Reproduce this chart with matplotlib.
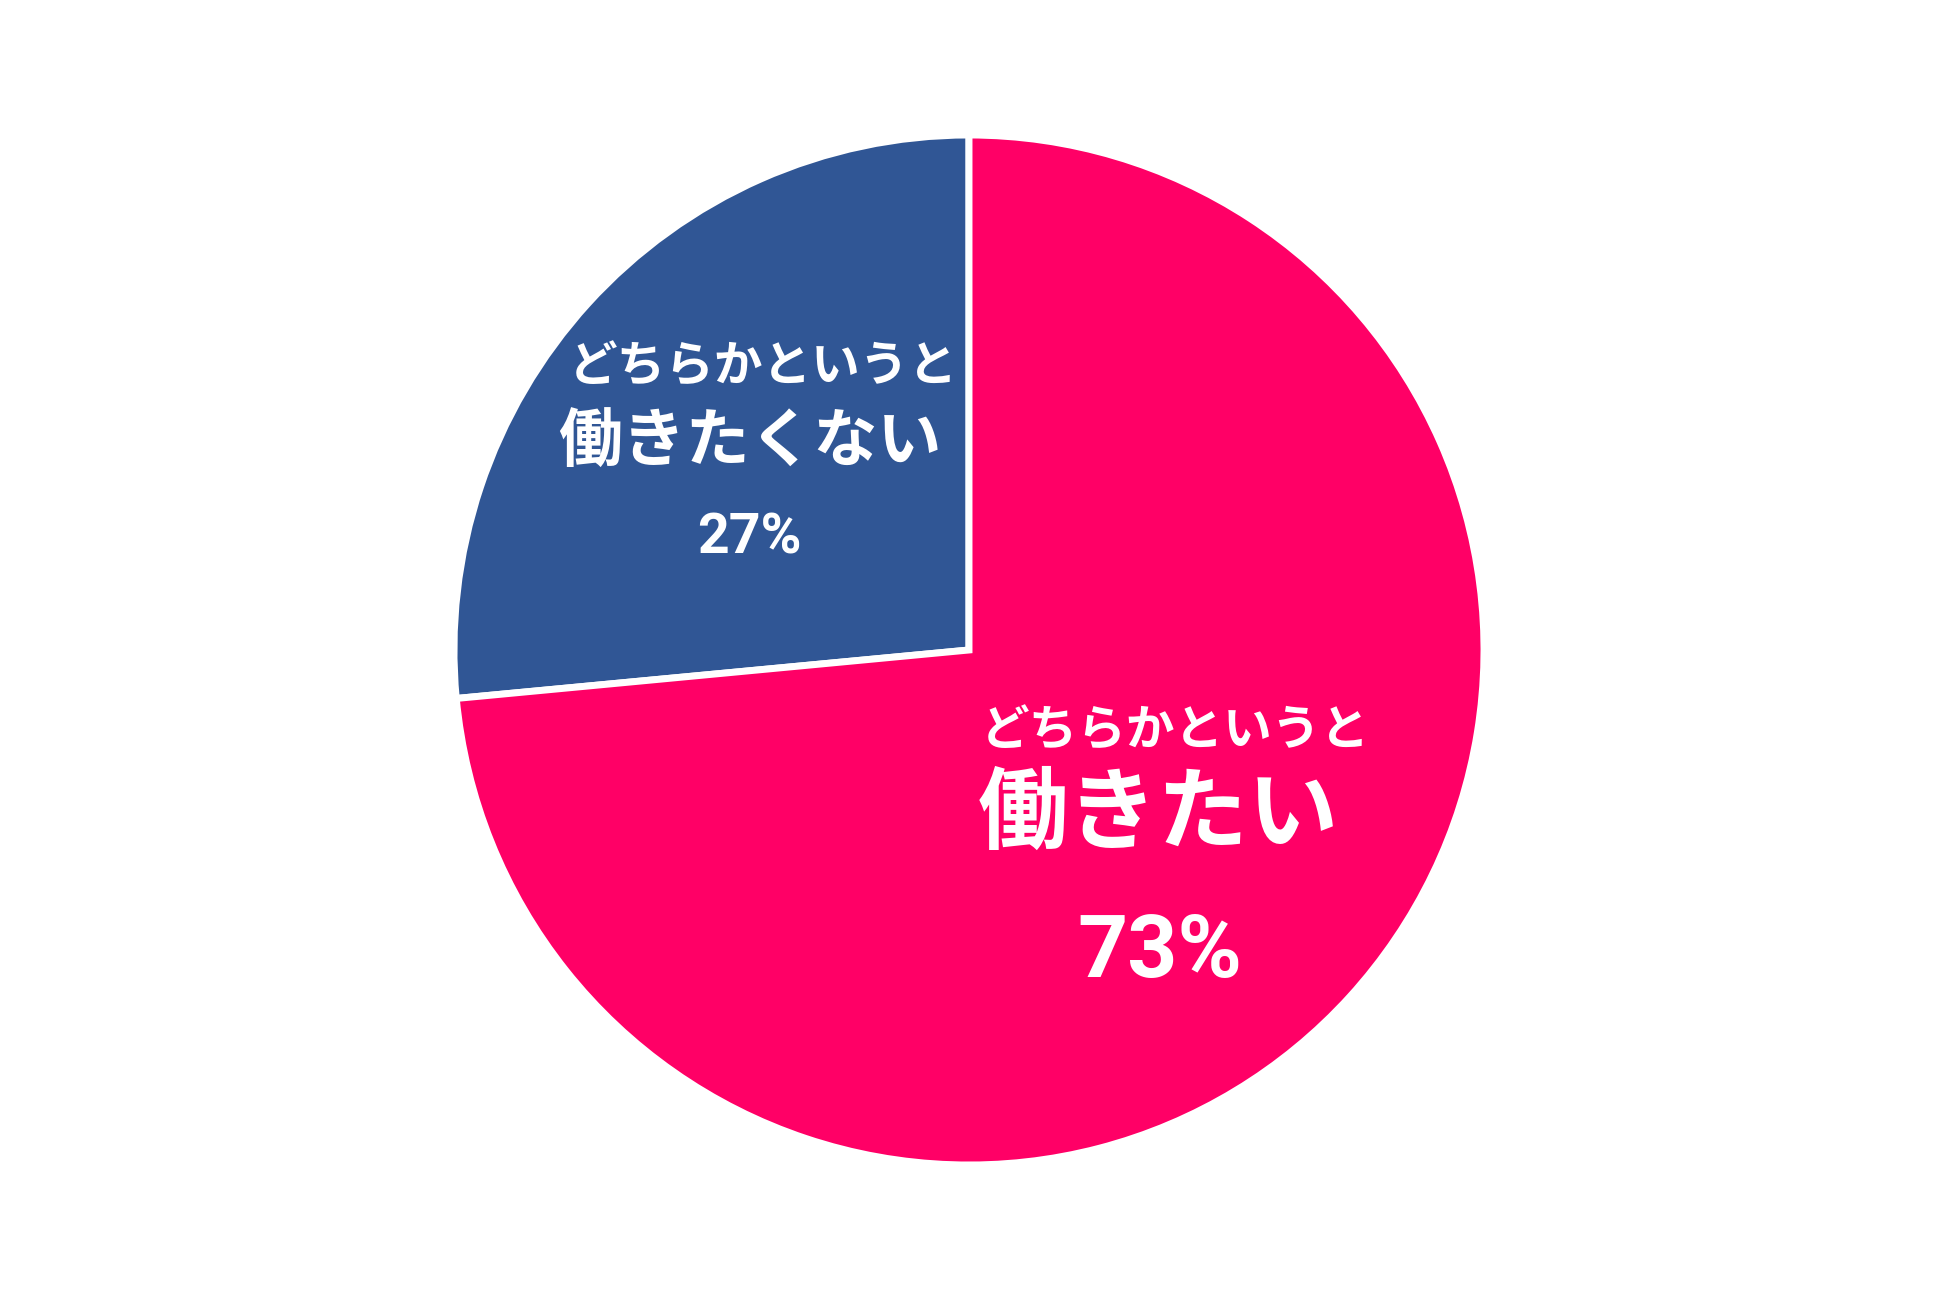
import matplotlib
matplotlib.use("Agg")
import matplotlib.pyplot as plt

plt.rcParams['font.family'] = ['Noto Sans CJK JP', 'DejaVu Sans']

# data
labels_top = ["どちらかというと", "どちらかというと"]
labels_main = ["働きたくない", "働きたい"]
pct_labels = ["27%", "73%"]
shares = [26.5, 73.5]
colors = ["#305695", "#FF0066"]

W, H = 1938, 1302
fig = plt.figure(figsize=(W / 100, H / 100), dpi=100)
ax = fig.add_axes([0, 0, 1, 1])

cx, cy, r = 969, H - 650, 515
ax.pie(shares, colors=colors, startangle=90, counterclock=True,
       center=(cx, cy), radius=r,
       wedgeprops=dict(edgecolor="white", linewidth=5))
ax.set_xlim(0, W)
ax.set_ylim(0, H)
ax.set_aspect("equal")
ax.axis("off")

# text placement, pixel coords from top: (x1, y1, x2, y2, x3, baseline3)
pos = [
    (763, 367, 750, 443, 749, 553),
    (1175, 731, 1158, 815, 1160, 977),
]
sizes = [(35, 46, 40), (35, 65, 63)]

for i in range(2):
    x1, y1, x2, y2, x3, y3 = pos[i]
    s1, s2, s3 = sizes[i]
    ax.text(x1, H - y1, labels_top[i], ha="center", va="center",
            color="white", fontsize=s1, fontweight="bold")
    ax.text(x2, H - y2, labels_main[i], ha="center", va="center",
            color="white", fontsize=s2, fontweight="bold")
    ax.text(x3, H - y3, pct_labels[i], ha="center", va="baseline",
            color="white", fontsize=s3, fontweight="bold",
            family=["Roboto", "DejaVu Sans"])

fig.savefig("out.png", dpi=100, facecolor="white")
